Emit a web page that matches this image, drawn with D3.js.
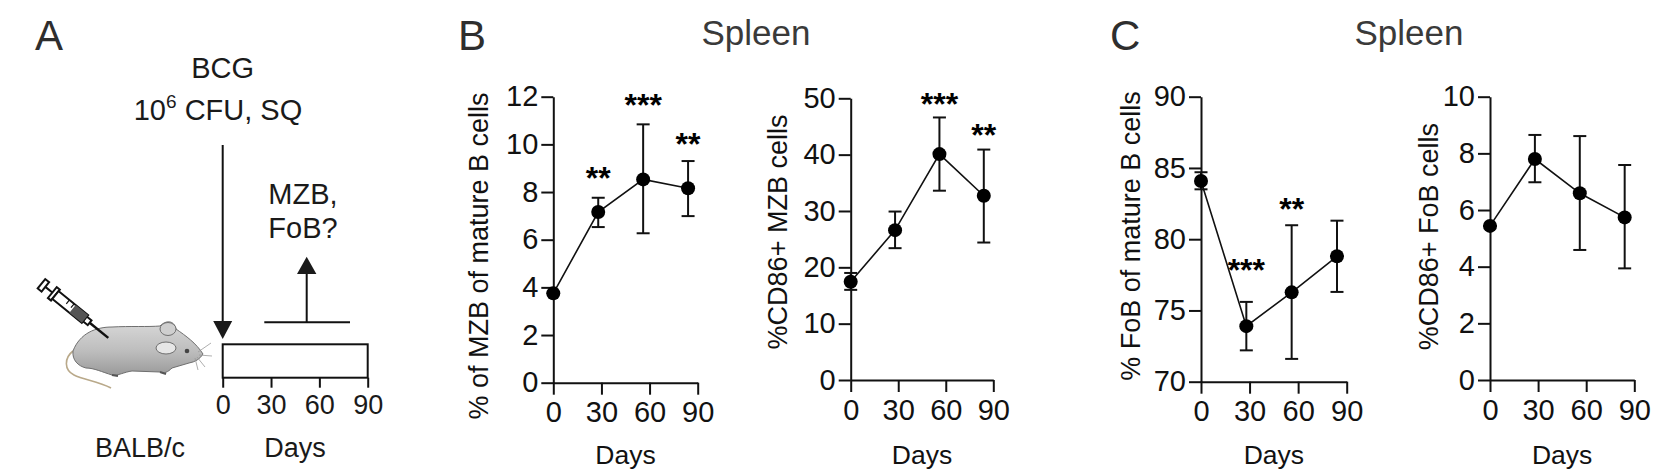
<!DOCTYPE html>
<html>
<head>
<meta charset="utf-8">
<script src="https://cdn.jsdelivr.net/npm/d3@7"></script>
<style>
  body { margin: 0; background: #fff; }
  svg { display: block; font-family: "Liberation Sans", Arial, sans-serif; }
</style>
</head>
<body>
<svg id="fig" width="1654" height="475"></svg>
<script>
// sampling days and axis ticks
var days = [0, 28, 56, 84];
var dayTicks = [0, 30, 60, 90];

// B left: % MZB of mature B cells
var mzbMean = [3.75, 7.16, 8.53, 8.16];
var mzbLo = [3.75, 6.53, 6.27, 6.99];
var mzbHi = [3.75, 7.76, 10.84, 9.30];
var mzbStars = ["", "**", "***", "**"];
var mzbStarAt = [null, 8.9, 11.95, 10.3];
var mzbTicks = [0, 2, 4, 6, 8, 10, 12];

// B right: %CD86+ MZB cells
var cd86MzbMean = [17.45, 26.6, 40.1, 32.7];
var cd86MzbLo = [16.0, 23.4, 33.6, 24.4];
var cd86MzbHi = [19.0, 29.9, 46.6, 40.9];
var cd86MzbStars = ["", "", "***", "**"];
var cd86MzbStarAt = [null, null, 50.3, 44.8];
var cd86MzbTicks = [0, 10, 20, 30, 40, 50];

// C left: % FoB of mature B cells
var fobMean = [84.08, 73.9, 76.27, 78.8];
var fobLo = [83.5, 72.2, 71.6, 76.3];
var fobHi = [84.7, 75.6, 80.98, 81.3];
var fobStars = ["", "***", "**", ""];
var fobStarAt = [null, 78.3, 82.6, null];
var fobTicks = [70, 75, 80, 85, 90];

// C right: %CD86+ FoB cells
var cd86FobMean = [5.44, 7.80, 6.59, 5.74];
var cd86FobLo = [5.44, 6.98, 4.59, 3.94];
var cd86FobHi = [5.44, 8.65, 8.61, 7.59];
var cd86FobTicks = [0, 2, 4, 6, 8, 10];

var svg = d3.select("#fig");

function drawChart(c) {
  var x = d3.scaleLinear().domain([0, 90]).range([c.x0, c.x1]);
  var y = d3.scaleLinear().domain([c.ticks[0], c.ticks[c.ticks.length - 1]]).range([c.yb, c.yt]);
  var g = svg.append("g");

  g.append("g")
    .attr("transform", "translate(" + c.x0 + ",0)")
    .call(d3.axisLeft(y).tickValues(c.ticks).tickSize(12).tickSizeOuter(0).tickPadding(3))
    .call(styleAxis);
  g.append("g")
    .attr("transform", "translate(0," + c.yb + ")")
    .call(d3.axisBottom(x).tickValues(dayTicks).tickSize(12).tickSizeOuter(0).tickPadding(7))
    .call(styleAxis);

  var pts = days.map(function (d, i) {
    return { day: d, mean: c.mean[i], lo: c.lo[i], hi: c.hi[i],
             star: c.stars ? c.stars[i] : "", starAt: c.starAt ? c.starAt[i] : null };
  });

  // error bars
  var eb = g.selectAll(".eb").data(pts).enter().append("g")
    .attr("stroke", "#111").attr("stroke-width", 2);
  eb.append("line")
    .attr("x1", function (d) { return x(d.day); }).attr("x2", function (d) { return x(d.day); })
    .attr("y1", function (d) { return y(d.lo); }).attr("y2", function (d) { return y(d.hi); });
  eb.append("line")
    .attr("x1", function (d) { return x(d.day) - 6.5; }).attr("x2", function (d) { return x(d.day) + 6.5; })
    .attr("y1", function (d) { return y(d.hi); }).attr("y2", function (d) { return y(d.hi); });
  eb.append("line")
    .attr("x1", function (d) { return x(d.day) - 6.5; }).attr("x2", function (d) { return x(d.day) + 6.5; })
    .attr("y1", function (d) { return y(d.lo); }).attr("y2", function (d) { return y(d.lo); });

  g.append("path")
    .datum(pts)
    .attr("fill", "none").attr("stroke", "#111").attr("stroke-width", 1.6)
    .attr("d", d3.line().x(function (d) { return x(d.day); }).y(function (d) { return y(d.mean); }));

  g.selectAll(".dot").data(pts).enter().append("circle")
    .attr("cx", function (d) { return x(d.day); })
    .attr("cy", function (d) { return y(d.mean); })
    .attr("r", 7).attr("fill", "#000");

  g.selectAll(".star").data(pts.filter(function (d) { return d.star; })).enter().append("text")
    .attr("x", function (d) { return x(d.day); })
    .attr("y", function (d) { return y(d.starAt) + 18; })
    .attr("text-anchor", "middle").attr("font-size", 32).attr("font-weight", "bold").attr("fill", "#000")
    .text(function (d) { return d.star; });

  g.append("text")
    .attr("transform", "translate(" + c.labX + "," + c.labY + ") rotate(-90)")
    .attr("text-anchor", "middle").attr("font-size", 27).attr("fill", "#111")
    .text(c.label);

  g.append("text")
    .attr("x", (c.x0 + c.x1) / 2).attr("y", 464)
    .attr("text-anchor", "middle").attr("font-size", 26.5).attr("fill", "#111")
    .text("Days");
}

function styleAxis(sel) {
  sel.select(".domain").attr("stroke", "#111").attr("stroke-width", 2);
  sel.selectAll(".tick line").attr("stroke", "#111").attr("stroke-width", 2);
  sel.selectAll(".tick text").attr("font-size", 29).attr("fill", "#111")
    .attr("font-family", "Liberation Sans, Arial, sans-serif");
}

drawChart({ x0: 553.3, x1: 697.7, yt: 96.7, yb: 382.7, ticks: mzbTicks,
  mean: mzbMean, lo: mzbLo, hi: mzbHi, stars: mzbStars, starAt: mzbStarAt,
  label: "% of MZB of mature B cells", labX: 488, labY: 256 });
drawChart({ x0: 850.7, x1: 993.3, yt: 98.3, yb: 380, ticks: cd86MzbTicks,
  mean: cd86MzbMean, lo: cd86MzbLo, hi: cd86MzbHi, stars: cd86MzbStars, starAt: cd86MzbStarAt,
  label: "%CD86+ MZB cells", labX: 786.5, labY: 232 });
drawChart({ x0: 1201, x1: 1346.7, yt: 96.7, yb: 381.7, ticks: fobTicks,
  mean: fobMean, lo: fobLo, hi: fobHi, stars: fobStars, starAt: fobStarAt,
  label: "% FoB of mature B cells", labX: 1140, labY: 236 });
drawChart({ x0: 1490, x1: 1634.3, yt: 96.7, yb: 380, ticks: cd86FobTicks,
  mean: cd86FobMean, lo: cd86FobLo, hi: cd86FobHi,
  label: "%CD86+ FoB cells", labX: 1438.3, labY: 236.7 });

// panel letters and titles
[["A", 35], ["B", 458], ["C", 1110]].forEach(function (p) {
  svg.append("text").attr("x", p[1]).attr("y", 50).attr("font-size", 42)
    .attr("fill", "#2e2e2e").text(p[0]);
});
[756, 1409].forEach(function (cx) {
  svg.append("text").attr("x", cx).attr("y", 45).attr("text-anchor", "middle")
    .attr("font-size", 35).attr("fill", "#3a3a3a").text("Spleen");
});

// panel A: schematic
var a = svg.append("g").attr("fill", "#1a1a1a").attr("font-size", 29);
a.append("text").attr("x", 222.7).attr("y", 78).attr("text-anchor", "middle").text("BCG");
var t = a.append("text").attr("x", 218).attr("y", 120).attr("text-anchor", "middle");
t.append("tspan").text("10");
t.append("tspan").attr("font-size", 19).attr("dy", -12).text("6");
t.append("tspan").attr("dy", 12).text(" CFU, SQ");

var xa = d3.scaleLinear().domain([0, 90]).range([222.7, 367.7]);
a.append("line").attr("x1", xa(0)).attr("x2", xa(0)).attr("y1", 145).attr("y2", 323)
  .attr("stroke", "#111").attr("stroke-width", 2);
a.append("path").attr("d", "M" + (xa(0) - 9.5) + ",321L" + (xa(0) + 9.5) + ",321L" + xa(0) + ",339Z");

a.append("rect").attr("x", xa(0)).attr("y", 344.3).attr("width", xa(90) - xa(0)).attr("height", 33.4)
  .attr("fill", "#fff").attr("stroke", "#111").attr("stroke-width", 2);
a.append("g").attr("transform", "translate(0,377.7)")
  .call(d3.axisBottom(xa).tickValues(dayTicks).tickSize(10).tickSizeOuter(0).tickPadding(7))
  .call(function (s) {
    s.select(".domain").remove();
    s.selectAll(".tick line").attr("stroke", "#111").attr("stroke-width", 2);
    s.selectAll(".tick text").attr("font-size", 27).attr("fill", "#1a1a1a")
      .attr("font-family", "Liberation Sans, Arial, sans-serif");
  });
a.append("text").attr("x", 295).attr("y", 457).attr("text-anchor", "middle").attr("font-size", 27).text("Days");
a.append("text").attr("x", 140).attr("y", 457).attr("text-anchor", "middle").attr("font-size", 27).text("BALB/c");

a.append("line").attr("x1", 264.3).attr("x2", 350).attr("y1", 322.3).attr("y2", 322.3)
  .attr("stroke", "#111").attr("stroke-width", 2);
a.append("line").attr("x1", 306.7).attr("x2", 306.7).attr("y1", 322.3).attr("y2", 273)
  .attr("stroke", "#111").attr("stroke-width", 2);
a.append("path").attr("d", "M297,274L316.4,274L306.7,256.7Z");
a.append("text").attr("x", 268.3).attr("y", 204).text("MZB,");
a.append("text").attr("x", 268.3).attr("y", 238).text("FoB?");

// mouse illustration
var defs = svg.append("defs");
var grad = defs.append("linearGradient").attr("id", "fur").attr("x1", 0).attr("y1", 0).attr("x2", 0).attr("y2", 1);
grad.append("stop").attr("offset", "0%").attr("stop-color", "#d8d8d8");
grad.append("stop").attr("offset", "55%").attr("stop-color", "#bdbdbd");
grad.append("stop").attr("offset", "100%").attr("stop-color", "#9a9a9a");

var m = svg.append("g");
m.append("path")
  .attr("d", "M73,351 C64,358 64,370 74,375 C84,380 98,381 111,388")
  .attr("fill", "none").attr("stroke", "#b9a98a").attr("stroke-width", 1.6);
m.append("path")
  .attr("d", "M73,351 C80,333 96,327 112,327 C130,326 148,327 160,326 C166,320 174,320 176,329 C186,336 196,343 203,354 C200,359 195,362 189,363 L172,368 C168,372 164,374 160,372 L132,371 C124,372 118,376 112,375 C102,372 94,368 86,368 C78,366 72,360 73,351 Z")
  .attr("fill", "url(#fur)").attr("stroke", "#6f6f6f").attr("stroke-width", 1);
m.append("ellipse").attr("cx", 168).attr("cy", 329).attr("rx", 8).attr("ry", 6.5)
  .attr("fill", "#cfcfcf").attr("stroke", "#6f6f6f").attr("stroke-width", 1);
m.append("ellipse").attr("cx", 166).attr("cy", 348).attr("rx", 10).attr("ry", 6)
  .attr("fill", "#e6e6e6").attr("stroke", "#6f6f6f").attr("stroke-width", 1);
m.append("circle").attr("cx", 187).attr("cy", 351).attr("r", 2.3).attr("fill", "#444");
[[198, 352, 211, 343], [199, 355, 212, 356], [197, 357, 205, 367], [195, 358, 198, 370]].forEach(function (w) {
  m.append("line").attr("x1", w[0]).attr("y1", w[1]).attr("x2", w[2]).attr("y2", w[3])
    .attr("stroke", "#999").attr("stroke-width", 0.8);
});
[[112, 375, 118, 376], [160, 372, 166, 374]].forEach(function (f) {
  m.append("line").attr("x1", f[0]).attr("y1", f[1]).attr("x2", f[2]).attr("y2", f[3])
    .attr("stroke", "#555").attr("stroke-width", 2);
});

// syringe
var s = svg.append("g").attr("transform", "translate(43,285) rotate(39)")
  .attr("fill", "#fff").attr("stroke", "#111").attr("stroke-width", 2);
s.append("rect").attr("x", -2).attr("y", -6).attr("width", 5).attr("height", 12);
s.append("line").attr("x1", 3).attr("y1", 0).attr("x2", 12).attr("y2", 0);
s.append("rect").attr("x", 12).attr("y", -7).attr("width", 4).attr("height", 14);
s.append("rect").attr("x", 16).attr("y", -5).attr("width", 38).attr("height", 10);
s.append("rect").attr("x", 54).attr("y", -3).attr("width", 6).attr("height", 6);
s.append("line").attr("x1", 60).attr("y1", 0).attr("x2", 84).attr("y2", 0).attr("stroke-width", 2.5);
[[30, -5, 30, 0], [36, -5, 36, 0], [42, -5, 42, 0]].forEach(function (l) {
  s.append("line").attr("x1", l[0]).attr("y1", l[1]).attr("x2", l[2]).attr("y2", l[3]).attr("stroke-width", 1.2);
});
s.append("rect").attr("x", 38).attr("y", -5).attr("width", 16).attr("height", 10).attr("fill", "#555").attr("stroke", "none");
</script>
</body>
</html>
